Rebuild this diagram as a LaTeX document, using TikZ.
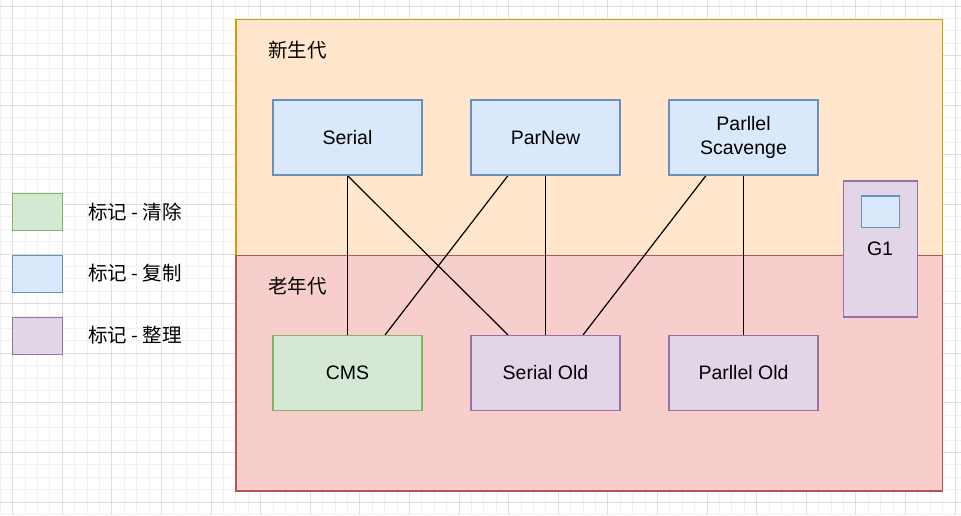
\documentclass[tikz,border=0pt]{standalone}
\usepackage{fontspec}
\setmainfont{Liberation Sans}
\newfontfamily\cjk{Noto Sans CJK SC}
\usetikzlibrary{calc}
\pgfdeclarelayer{bg}
\pgfdeclarelayer{links}
\pgfsetlayers{bg,links,main}
\definecolor{gridmajor}{HTML}{DDDDDD}
\definecolor{gridminor}{HTML}{F1F1F1}
\definecolor{youngfill}{HTML}{FFE6CC}
\definecolor{youngline}{HTML}{D79B00}
\definecolor{oldfill}{HTML}{F8CECC}
\definecolor{oldline}{HTML}{B85450}
\definecolor{bluefill}{HTML}{DAE8FC}
\definecolor{blueline}{HTML}{6C8EBF}
\definecolor{greenfill}{HTML}{D5E8D4}
\definecolor{greenline}{HTML}{82B366}
\definecolor{purplefill}{HTML}{E1D5E7}
\definecolor{purpleline}{HTML}{9673A6}
\tikzset{
  basefont/.style={font=\fontsize{19.5}{23.4}\selectfont},
  region/.style={draw, line width=1.2pt, inner sep=0pt},
  younggen/.style={region, fill=youngfill, draw=youngline, minimum width=706.5pt, minimum height=236.2pt},
  oldgen/.style={region, fill=oldfill, draw=oldline, minimum width=706.5pt, minimum height=235.3pt},
  gcbox/.style={draw, line width=1.2pt, minimum width=149pt, minimum height=75pt, inner sep=0pt, align=center, basefont},
  copybox/.style={gcbox, fill=bluefill, draw=blueline},
  sweepbox/.style={gcbox, fill=greenfill, draw=greenline},
  compactbox/.style={gcbox, fill=purplefill, draw=purpleline},
  legendbox/.style={draw, line width=1.2pt, minimum width=50pt, minimum height=37.4pt, inner sep=0pt},
  legendtext/.style={anchor=west, inner sep=0pt, font=\cjk\fontsize{19.5}{23.4}\selectfont},
  titletext/.style={anchor=west, inner sep=0pt, font=\cjk\fontsize{19.5}{23.4}\selectfont},
  link/.style={draw=black, line width=1.2pt},
  gridminorline/.style={draw=gridminor, line width=0.9pt},
  gridmajorline/.style={draw=gridmajor, line width=0.9pt},
}
\begin{document}
\begin{tikzpicture}[x=1pt,y=-1pt]
\useasboundingbox (0,0) rectangle (961,515);
\begin{pgfonlayer}{bg}
\fill[white] (0,0) rectangle (961,515);
% grid
\foreach \k in {0,...,78} {\draw[gridminorline] ({0.3+\k*12.4},0) -- ({0.3+\k*12.4},515);}
\foreach \k in {0,...,41} {\draw[gridminorline] (0,{6+\k*12.4}) -- (961,{6+\k*12.4});}
\foreach \k in {0,...,19} {\draw[gridmajorline] ({12.7+\k*49.6},0) -- ({12.7+\k*49.6},515);}
\foreach \k in {0,...,10} {\draw[gridmajorline] (0,{6+\k*49.6}) -- (961,{6+\k*49.6});}
% generations
\node[younggen] (young) at (589.25,137.6) {};
\node[oldgen] (old) at (589.25,373.35) {};
\end{pgfonlayer}

% legend
\node[legendbox, fill=greenfill, draw=greenline] (lg1) at (37.7,212) {};
\node[legendbox, fill=bluefill, draw=blueline] (lg2) at (37.7,274) {};
\node[legendbox, fill=purplefill, draw=purpleline] (lg3) at (37.7,336) {};
\node[legendtext] (lt1) at (88,212.3) {标记 - 清除};
\node[legendtext] (lt2) at (88,273.5) {标记 - 复制};
\node[legendtext] (lt3) at (88,335.3) {标记 - 整理};

\node[titletext] (ytitle) at (268,50) {新生代};
\node[titletext] (otitle) at (268,286) {老年代};

% collectors
\node[copybox] (serial) at (347.5,137.5) {Serial};
\node[copybox] (parnew) at (545.5,137.5) {ParNew};
\node[copybox] (pscav) at (743.5,137.5) {Parllel\\Scavenge};
\node[sweepbox] (cms) at (347.5,373) {CMS};
\node[compactbox] (sold) at (545.5,373) {Serial Old};
\node[compactbox] (pold) at (743.5,373) {Parllel Old};

% links
\begin{pgfonlayer}{links}
\draw[link] (serial.south) -- (cms.north);
\draw[link] (serial.south) -- ($(sold.north west)!0.25!(sold.north east)$);
\draw[link] ($(parnew.south west)!0.25!(parnew.south east)$) -- ($(cms.north west)!0.75!(cms.north east)$);
\draw[link] (parnew.south) -- (sold.north);
\draw[link] ($(pscav.south west)!0.25!(pscav.south east)$) -- ($(sold.north west)!0.75!(sold.north east)$);
\draw[link] (pscav.south) -- (pold.north);
\end{pgfonlayer}

% G1
\node[draw=purpleline, fill=purplefill, line width=1.2pt, minimum width=74.5pt, minimum height=136pt, inner sep=0pt] (g1) at (880.5,249) {};
\node[draw=blueline, fill=bluefill, line width=1.2pt, minimum width=37.6pt, minimum height=31.7pt, inner sep=0pt] (g1cell) at (880.5,211.8) {};
\node[basefont, inner sep=0pt] (g1label) at (880,249) {G1};
\end{tikzpicture}
\end{document}
